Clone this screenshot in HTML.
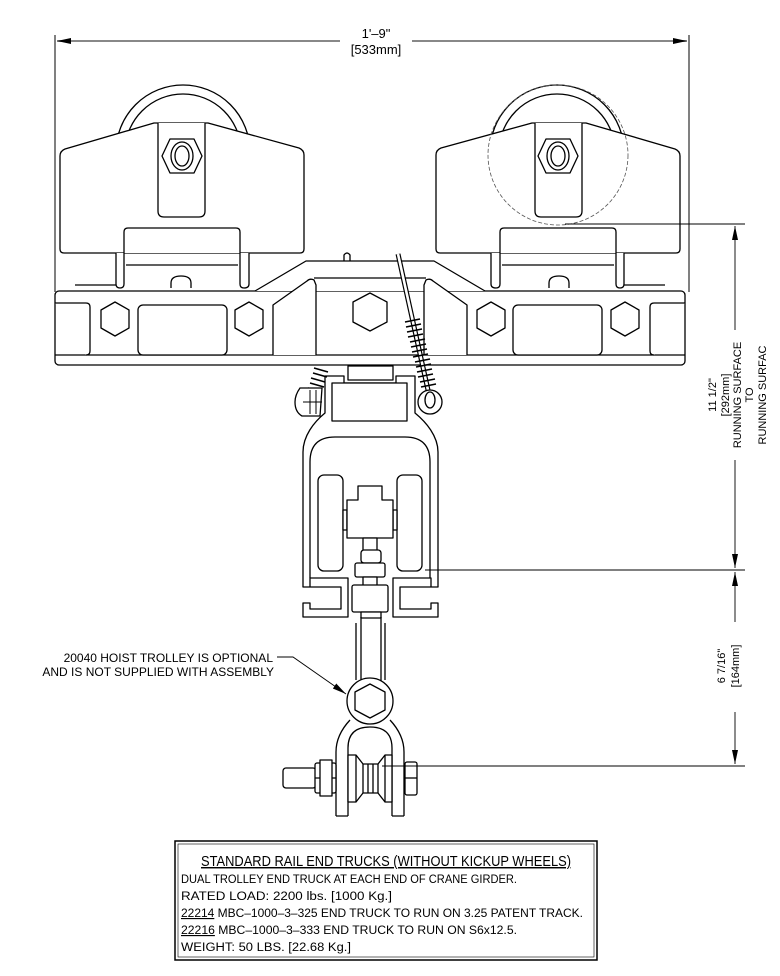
<!DOCTYPE html>
<html><head><meta charset="utf-8"><style>
html,body{margin:0;padding:0;background:#fff;}
svg{display:block;}
text{font-family:"Liberation Sans",sans-serif;fill:#000;}
</style></head><body>
<svg width="780" height="976" viewBox="0 0 780 976" xmlns="http://www.w3.org/2000/svg">
<defs>
<marker id="ar" markerWidth="14" markerHeight="8" refX="14" refY="4" orient="auto" markerUnits="userSpaceOnUse"><path d="M0,1 L14,4 L0,7 Z" fill="#000"/></marker>
</defs>

<g stroke="#000" stroke-width="1" fill="none">
<line x1="55" y1="35" x2="55" y2="292"/>
<line x1="689" y1="35" x2="689" y2="292"/>
</g>
<g stroke="#888" stroke-width="2">
<line x1="340" y1="41" x2="57" y2="41" marker-end="url(#ar)"/>
<line x1="412" y1="41" x2="687" y2="41" marker-end="url(#ar)"/>
</g>
<text x="376" y="38" font-size="13" text-anchor="middle">1'–9"</text>
<text x="376" y="54" font-size="13" text-anchor="middle">[533mm]</text>

<g stroke="#000" stroke-width="1.3" fill="#fff" stroke-linejoin="round">
<g>
<circle cx="183" cy="152" r="67"/>
<circle cx="183" cy="152" r="58"/>
<path d="M60,156 Q60,151 65,149 L154,123 L208,123 L299,148 Q304,150 304,155 L304,249 Q304,253 300,253 L64,253 Q60,253 60,249 Z"/>
<path d="M158,123 L158,211 Q158,217 164,217 L199,217 Q205,217 205,211 L205,123"/>
<path d="M162,156 L170,139 L194,139 L202,156 L194,173 L170,173 Z"/>
<ellipse cx="182" cy="156" rx="11" ry="14"/>
<ellipse cx="182" cy="156" rx="7" ry="10"/>
<path d="M116,253 L116,284 Q116,288 120,288 Q124,288 124,284 L124,232 Q124,228 128,228 L236,228 Q240,228 240,232 L240,284 Q240,288 244,288 Q249,288 249,284 L249,253"/>
<line x1="126" y1="265" x2="238" y2="265"/>
<path d="M171,288 L171,283 Q171,276 181,276 Q191,276 191,283 L191,288"/>
<line x1="75" y1="285" x2="116" y2="285"/>
</g>
<g transform="translate(740,0) scale(-1,1)">
<circle cx="183" cy="152" r="67"/>
<circle cx="183" cy="152" r="58"/>
<path d="M60,156 Q60,151 65,149 L154,123 L208,123 L299,148 Q304,150 304,155 L304,249 Q304,253 300,253 L64,253 Q60,253 60,249 Z"/>
<path d="M158,123 L158,211 Q158,217 164,217 L199,217 Q205,217 205,211 L205,123"/>
<path d="M162,156 L170,139 L194,139 L202,156 L194,173 L170,173 Z"/>
<ellipse cx="182" cy="156" rx="11" ry="14"/>
<ellipse cx="182" cy="156" rx="7" ry="10"/>
<path d="M116,253 L116,284 Q116,288 120,288 Q124,288 124,284 L124,232 Q124,228 128,228 L236,228 Q240,228 240,232 L240,284 Q240,288 244,288 Q249,288 249,284 L249,253"/>
<line x1="126" y1="265" x2="238" y2="265"/>
<path d="M171,288 L171,283 Q171,276 181,276 Q191,276 191,283 L191,288"/>
<line x1="75" y1="285" x2="116" y2="285"/>
</g>
</g>

<circle cx="558" cy="155" r="70" fill="none" stroke="#555" stroke-width="0.8" stroke-dasharray="4,2"/>
<line x1="565" y1="224" x2="745" y2="224" stroke="#000" stroke-width="0.9"/>

<g stroke="#000" stroke-width="1.3" fill="#fff" stroke-linejoin="round">
<path d="M344,261 L344,255 Q347,251 350,255 L350,261"/>
<rect x="55" y="291" width="630" height="74" rx="4"/>
<line x1="55" y1="355" x2="685" y2="355"/>
<path d="M255,291 L306,261 L434,261 L485,291" />
<path d="M273,355 L273,305 L307,281 Q310,278 314,280 L316,285 L316,355 M467,355 L467,305 L433,281 Q430,278 426,280 L424,285 L424,355 M314,278 L426,278"/>
<path d="M55,303 L86,303 Q90,303 90,307 L90,351 Q90,355 86,355"/>
<path d="M685,303 L654,303 Q650,303 650,307 L650,351 Q650,355 654,355"/>
<rect x="138" y="305" width="89" height="50" rx="5"/>
<rect x="513" y="305" width="89" height="50" rx="5"/>
<path d="M115,302 L129,310 L129,328 L115,336 L101,328 L101,310 Z"/>
<path d="M249,302 L263,310 L263,328 L249,336 L235,328 L235,310 Z"/>
<path d="M491,302 L505,310 L505,328 L491,336 L477,328 L477,310 Z"/>
<path d="M625,302 L639,310 L639,328 L625,336 L611,328 L611,310 Z"/>
<path d="M370,293 L387,302 L387,322 L370,331 L353,322 L353,302 Z"/>

<rect x="348" y="366" width="45" height="14"/>
<path d="M303,587 L303,452 C303,436 314,422 325,413 L325,376 L344,376 L344,383 L396,383 L396,376 L415,376 L415,413 C426,422 438,436 438,452 L438,587"/>
<rect x="332" y="383" width="75" height="38"/>
<path d="M310,578 L310,462 Q310,437 335,437 L405,437 Q430,437 430,462 L430,578"/>
<rect x="318" y="475" width="25" height="96" rx="6"/>
<rect x="397" y="475" width="25" height="96" rx="6"/>
<rect x="343" y="510" width="4" height="20"/>
<rect x="393" y="510" width="4" height="20"/>
<path d="M358,486 L382,486 L382,500 L393,500 L393,538 L347,538 L347,500 L358,500 Z"/>
<path d="M303,587 L310,587 L310,578 L348,578 L348,617 L303,617 L303,603 L310,603 L310,609 L341,609 L341,587 Z"/>
<path d="M438,587 L431,587 L431,578 L393,578 L393,617 L438,617 L438,603 L431,603 L431,609 L400,609 L400,587 Z"/>
<rect x="363" y="538" width="14" height="14"/>
<rect x="361" y="550" width="20" height="13" rx="3"/>
<rect x="355" y="563" width="30" height="14" rx="2"/>
<rect x="363" y="577" width="14" height="9"/>
<rect x="352" y="585" width="36" height="27" rx="2"/>
<rect x="361" y="612" width="20" height="6"/>
<path d="M356,623 L356,680 M385,623 L385,680 M361,617 L361,685 M381,617 L381,685"/>
<path d="M361,685 Q361,690 352,700 M381,685 Q381,690 390,700"/>
<circle cx="370" cy="701" r="23"/>
<path d="M370,684 L385,692 L385,710 L370,718 L355,710 L355,692 Z"/>
<path d="M336,816 L336,752 Q336,735 350,720 M404,816 L404,752 Q404,735 390,720"/>
<path d="M348,816 L348,748 Q348,727 370,727 Q392,727 392,748 L392,816"/>
<path d="M336,816 L348,816 M392,816 L404,816"/>
<path d="M348,755 L356,755 L363,764 L378,764 L385,755 L392,755 L392,802 L385,802 L378,793 L363,793 L356,802 L348,802 Z"/>
<path d="M356,755 L356,802 M385,755 L385,802 M363,764 L363,793 M378,764 L378,793 M368,764 L368,793 M373,764 L373,793"/>
<rect x="283" y="768" width="33" height="20" rx="3"/>
<rect x="315" y="763" width="21" height="30" rx="2"/>
<line x1="315" y1="778" x2="336" y2="778"/>
<rect x="320" y="760" width="12" height="36"/>
<rect x="405" y="762" width="12" height="33" rx="2"/>
<line x1="405" y1="778" x2="417" y2="778"/>
</g>

<g stroke="#000" fill="none">
<line x1="398" y1="254" x2="428" y2="390" stroke-width="5"/>
<line x1="398" y1="254" x2="428" y2="390" stroke="#fff" stroke-width="2.6"/>
<g stroke-width="1.5">
<line x1="405" y1="322" x2="420" y2="319"/><line x1="406" y1="327" x2="421" y2="324"/>
<line x1="407" y1="332" x2="422" y2="329"/><line x1="408" y1="337" x2="423" y2="334"/>
<line x1="410" y1="342" x2="425" y2="339"/><line x1="411" y1="347" x2="426" y2="344"/>
<line x1="412" y1="352" x2="427" y2="349"/><line x1="413" y1="357" x2="428" y2="354"/>
<line x1="415" y1="362" x2="430" y2="359"/><line x1="416" y1="367" x2="431" y2="364"/>
<line x1="417" y1="372" x2="432" y2="369"/><line x1="418" y1="377" x2="433" y2="374"/>
<line x1="420" y1="382" x2="435" y2="379"/><line x1="421" y1="387" x2="436" y2="384"/>
</g>
<circle cx="430" cy="402" r="12" fill="#fff" stroke-width="1.3"/>
<ellipse cx="430" cy="400" rx="5" ry="8" stroke-width="1.3"/>
<g stroke-width="1.5">
<line x1="314" y1="368" x2="328" y2="372"/><line x1="313" y1="373" x2="327" y2="377"/>
<line x1="311" y1="378" x2="325" y2="382"/><line x1="310" y1="383" x2="324" y2="387"/>
<line x1="308" y1="388" x2="322" y2="392"/>
</g>
<path d="M312,388 L300,388 Q295,395 295,402 Q295,412 302,416 L320,416 L322,388 Z" fill="#fff" stroke-width="1.3"/>
<path d="M310,390 L310,414 M316,390 L316,414 M303,402 L322,402" stroke-width="1"/>
</g>

<g stroke="#000" stroke-width="0.9">
<line x1="425" y1="570" x2="745" y2="570"/>
<line x1="382" y1="766" x2="745" y2="766"/>
<line x1="735" y1="330" x2="735" y2="226" marker-end="url(#ar)"/>
<line x1="735" y1="460" x2="735" y2="568" marker-end="url(#ar)"/>
<line x1="735" y1="622" x2="735" y2="572" marker-end="url(#ar)"/>
<line x1="735" y1="712" x2="735" y2="764" marker-end="url(#ar)"/>
</g>
<g font-size="11" text-anchor="middle">
<text transform="translate(716,395) rotate(-90)">11  1/2"</text>
<text transform="translate(729,395) rotate(-90)">[292mm]</text>
<text transform="translate(741,395) rotate(-90)">RUNNING SURFACE</text>
<text transform="translate(753,395) rotate(-90)">TO</text>
<text transform="translate(766,395) rotate(-90)">RUNNING SURFAC</text>
<text transform="translate(725,666) rotate(-90)">6  7/16"</text>
<text transform="translate(739,666) rotate(-90)">[164mm]</text>
</g>

<text x="273" y="662" font-size="12" text-anchor="end">20040 HOIST TROLLEY IS OPTIONAL</text>
<text x="274" y="676" font-size="12" text-anchor="end">AND IS NOT SUPPLIED WITH ASSEMBLY</text>
<polyline points="277,657 293,657 346,694" fill="none" stroke="#000" stroke-width="0.9" marker-end="url(#ar)"/>

<rect x="175" y="841" width="422" height="119" fill="none" stroke="#000" stroke-width="1.5"/>
<rect x="178" y="844" width="416" height="113" fill="none" stroke="#000" stroke-width="0.6"/>
<text x="386" y="866" font-size="14.5" text-anchor="middle" text-decoration="underline" textLength="370" lengthAdjust="spacingAndGlyphs">STANDARD RAIL END TRUCKS (WITHOUT KICKUP WHEELS)</text>
<g font-size="11.5">
<text x="181" y="883" textLength="336" lengthAdjust="spacingAndGlyphs">DUAL TROLLEY END TRUCK AT EACH END OF CRANE GIRDER.</text>
<text x="181" y="900" textLength="211" lengthAdjust="spacingAndGlyphs">RATED LOAD: 2200 lbs. [1000 Kg.]</text>
<text x="181" y="917" textLength="402" lengthAdjust="spacingAndGlyphs"><tspan text-decoration="underline">22214</tspan> MBC–1000–3–325 END TRUCK TO RUN ON 3.25 PATENT TRACK.</text>
<text x="181" y="934" textLength="336" lengthAdjust="spacingAndGlyphs"><tspan text-decoration="underline">22216</tspan> MBC–1000–3–333 END TRUCK TO RUN ON S6x12.5.</text>
<text x="181" y="951" textLength="170" lengthAdjust="spacingAndGlyphs">WEIGHT: 50 LBS. [22.68 Kg.]</text>
</g>
</svg>
</body></html>
